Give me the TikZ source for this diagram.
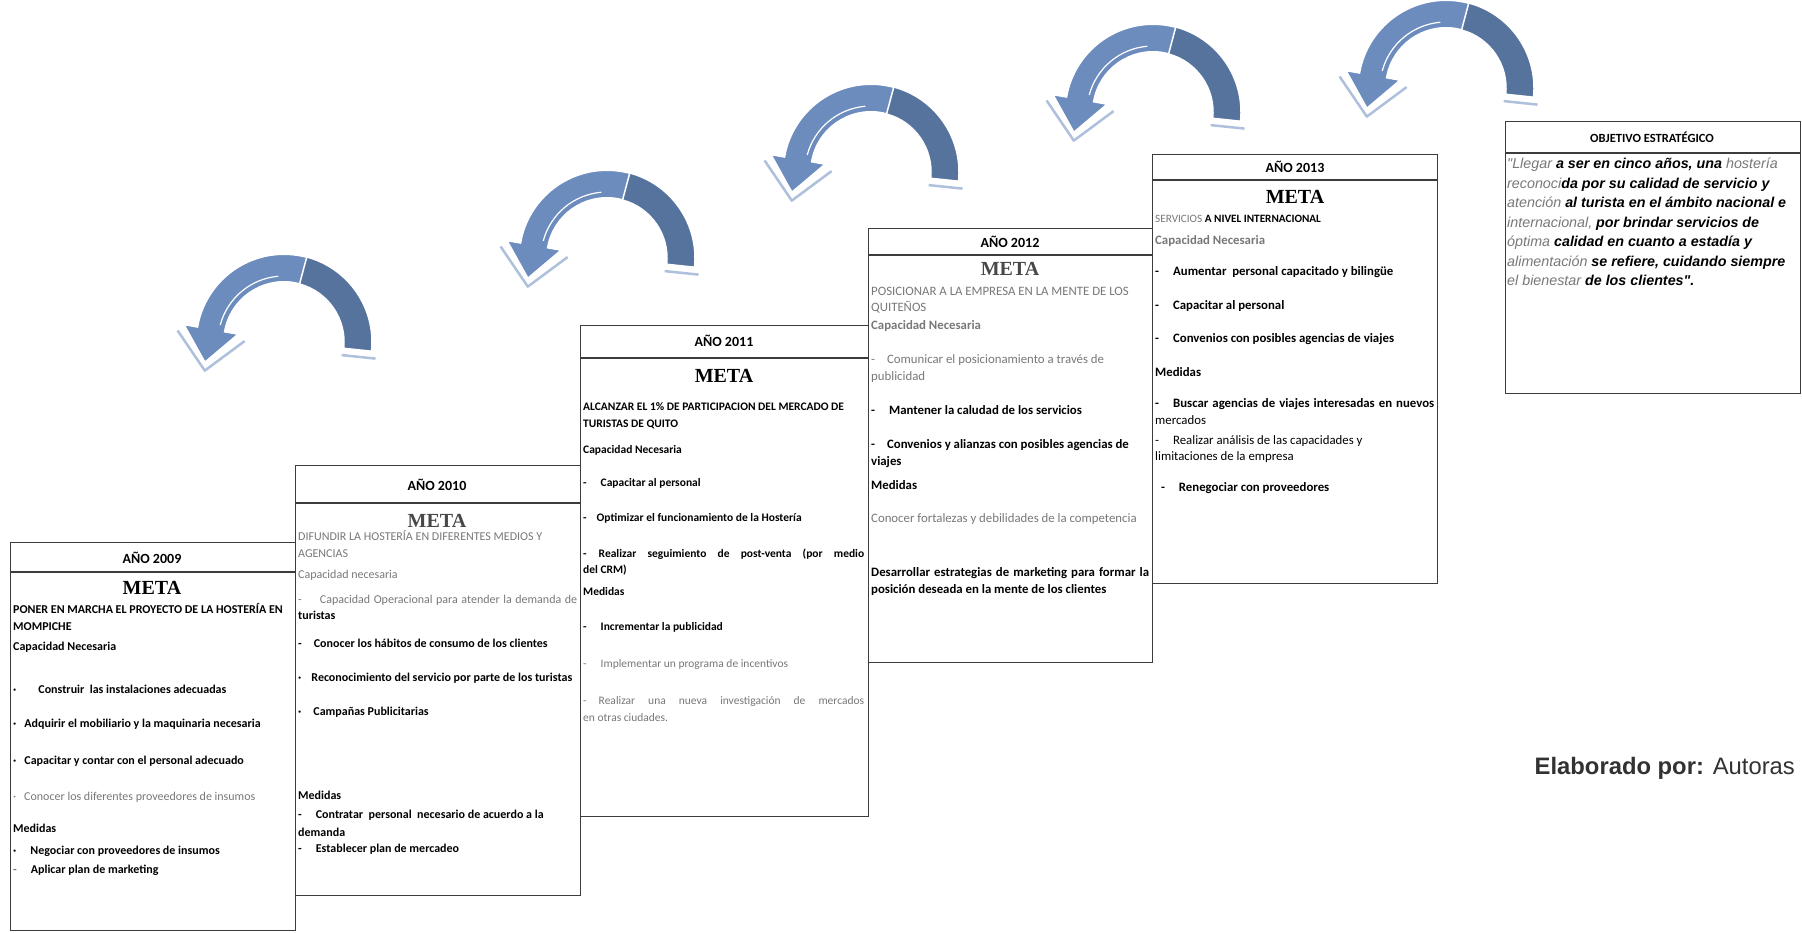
\documentclass[tikz,border=0pt]{standalone}
\usepackage{fontspec}
\setmainfont{Carlito}
\newfontfamily\arialf{Liberation Sans}
\newfontfamily\metaf{Liberation Serif}
\usetikzlibrary{calc}
\definecolor{arrL}{RGB}{108,140,190}
\definecolor{arrD}{RGB}{86,115,158}
\definecolor{txtgray}{RGB}{120,120,120}
\definecolor{boxline}{RGB}{60,60,60}
\definecolor{elab}{RGB}{50,50,50}
\def\bodysize{\fontsize{12}{16.5}\selectfont}
\tikzset{
 yearbox/.style={draw=boxline, line width=1.3pt, inner sep=0pt, anchor=north west},
 sepline/.style={draw=boxline, line width=1.3pt},
 hd/.style={font=\fontsize{14}{16}\selectfont\bfseries, inner sep=0pt},
 metat/.style={font=\metaf\fontsize{20}{22}\selectfont\bfseries, inner sep=0pt},
 tx/.style={anchor=west, align=left, font=\bodysize, inner sep=0pt},
 bx/.style={tx, font=\bodysize\bfseries},
 gx/.style={tx, text=txtgray},
 gbx/.style={bx, text=txtgray},
 uarrow/.pic={
  \draw[arrL!55, line width=2.5pt, line join=round] (-106.4,-11.5) -- (-79.2,28.6) -- (-39.4,-0.9);
  \draw[arrL!55, line width=2.5pt] (57.7,13.1) -- (91.5,16.6);
  \fill[arrL, draw=white, line width=2pt, line join=miter]
    (6:88) arc[start angle=6, end angle=-170, radius=88]
    -- (-170:102) -- (-79.2,20.6) -- (-170:46)
    -- (-170:60) arc[start angle=-170, end angle=6, radius=60] -- cycle;
  \fill[arrD, draw=white, line width=1.5pt]
    (6:88) arc[start angle=6, end angle=-75, radius=88]
    -- (-75:60) arc[start angle=-75, end angle=6, radius=60] -- cycle;
  \draw[white, line width=1.2pt] (-95:66) arc[start angle=-95, end angle=-165, radius=66];
 }
}
\begin{document}
\begin{tikzpicture}[x=1pt,y=-1pt]
\fill[white] (0,0) rectangle (1802,932);
\useasboundingbox (0,0) rectangle (1802,932);

% curved arrows
\pic at (284,342) {uarrow};
\pic at (607,258) {uarrow};
\pic at (871,172) {uarrow};
\pic at (1153,112) {uarrow};
\pic at (1446,88) {uarrow};

% ---------- 2009 ----------
\def\bodysize{\fontsize{12}{16.5}\selectfont}
\node[yearbox, minimum width=285pt, minimum height=388pt] (b09) at (10,542) {};
\draw[sepline] (10,572) -- (295,572);
\node[hd] (y09) at (152,558) {AÑO 2009};
\node[metat] (m09) at (152,588) {META};
\node[bx] (a09) at (13,617) {PONER EN MARCHA EL PROYECTO DE LA HOSTERÍA EN\\MOMPICHE};
\node[bx] (c09) at (13,647) {Capacidad Necesaria};
\node[bx] (d09) at (13,689) {·\hspace{22pt}Construir\ \ las instalaciones adecuadas};
\node[bx] (e09) at (13,724) {·\hspace{8pt}Adquirir el mobiliario y la maquinaria necesaria};
\node[bx] (f09) at (13,761) {·\hspace{8pt}Capacitar y contar con el personal adecuado};
\node[gx] (g09) at (13,797) {·\hspace{8pt}Conocer los diferentes proveedores de insumos};
\node[bx] (h09) at (13,828) {Medidas};
\node[bx] (i09) at (13,851) {·\hspace{14pt}Negociar con proveedores de insumos};
\node[bx] (j09) at (13,870) {\textcolor{txtgray}{-}\hspace{14pt}Aplicar plan de marketing};

% ---------- 2010 ----------
\def\bodysize{\fontsize{12}{16.5}\selectfont}
\node[yearbox, minimum width=285pt, minimum height=430pt] (b10) at (295,465) {};
\draw[sepline] (295,503) -- (580,503);
\node[hd] (y10) at (437,485) {AÑO 2010};
\node[metat, text=txtgray!60!black] (m10) at (437,521) {META};
\node[gx] (a10) at (298,544) {DIFUNDIR LA HOSTERÍA EN DIFERENTES MEDIOS Y\\AGENCIAS};
\node[gx] (c10) at (298,575) {Capacidad necesaria};
\node[gx] (d10) at (298,600) {\makebox[279pt][s]{-\hspace{18pt}Capacidad Operacional para atender la demanda de}};
\node[bx] (d10b) at (298,615) {turistas};
\node[bx] (e10) at (298,643) {-\hspace{12pt}Conocer los hábitos de consumo de los clientes};
\node[bx] (f10) at (298,678) {·\hspace{10pt}Reconocimiento del servicio por parte de los turistas};
\node[bx] (g10) at (298,712) {·\hspace{12pt}Campañas Publicitarias};
\node[bx] (h10) at (298,795) {Medidas};
\node[bx] (i10) at (298,815) {-\hspace{14pt}Contratar\ \ personal\ \ necesario de acuerdo a la};
\node[bx] (i10b) at (298,832) {demanda};
\node[bx] (j10) at (298,849) {-\hspace{14pt}Establecer plan de mercadeo};

% ---------- 2011 ----------
\def\bodysize{\fontsize{11.5}{16.5}\selectfont}
\node[yearbox, minimum width=288pt, minimum height=491pt] (b11) at (580,325) {};
\draw[sepline] (580,358) -- (868,358);
\node[hd] (y11) at (724,341) {AÑO 2011};
\node[metat] (m11) at (724,376) {META};
\node[bx] (a11) at (583,416) {ALCANZAR EL 1\% DE PARTICIPACION DEL MERCADO DE\\TURISTAS DE QUITO};
\node[bx] (c11) at (583,450) {Capacidad Necesaria};
\node[bx] (d11) at (583,483) {-\hspace{14pt}Capacitar al personal};
\node[bx] (e11) at (583,518) {-\hspace{10pt}Optimizar el funcionamiento de la Hostería};
\node[bx] (f11) at (583,554) {\makebox[281pt][s]{-\hspace{12pt}Realizar seguimiento de post-venta (por medio}};
\node[bx] (f11b) at (583,570) {del CRM)};
\node[bx] (g11) at (583,591) {Medidas};
\node[bx] (h11) at (583,627) {-\hspace{14pt}Incrementar la publicidad};
\node[gx] (i11) at (583,664) {-\hspace{14pt}Implementar un programa de incentivos};
\node[gx] (j11) at (583,701) {\makebox[281pt][s]{-\hspace{12pt}Realizar una nueva investigación de mercados}};
\node[gx] (j11b) at (583,718) {en otras ciudades.};

% ---------- 2012 ----------
\def\bodysize{\fontsize{12.8}{16.5}\selectfont}
\node[yearbox, minimum width=284pt, minimum height=434pt] (b12) at (868,228) {};
\draw[sepline] (868,255) -- (1152,255);
\node[hd] (y12) at (1010,242) {AÑO 2012};
\node[metat, text=txtgray!60!black] (m12) at (1010,269) {META};
\node[gx] (a12) at (871,300) {POSICIONAR A LA EMPRESA EN LA MENTE DE LOS\\QUITEÑOS};
\node[gbx] (c12) at (871,326) {Capacidad Necesaria};
\node[gx] (d12) at (871,360) {-\hspace{12pt}Comunicar el posicionamiento a través de};
\node[gx] (d12b) at (871,377) {publicidad};
\node[bx] (e12) at (871,410) {-\hspace{14pt}Mantener la caludad de los servicios};
\node[bx] (f12) at (871,445) {-\hspace{12pt}Convenios y alianzas con posibles agencias de};
\node[bx] (f12b) at (871,462) {viajes};
\node[bx] (g12) at (871,485) {Medidas};
\node[gx] (h12) at (871,519) {Conocer fortalezas y debilidades de la competencia};
\node[bx] (i12) at (871,573) {\makebox[278pt][s]{Desarrollar estrategias de marketing para formar la}};
\node[bx] (i12b) at (871,590) {posición deseada en la mente de los clientes};

% ---------- 2013 ----------
\def\bodysize{\fontsize{12.8}{16.5}\selectfont}
\node[yearbox, minimum width=285pt, minimum height=429pt] (b13) at (1152,154) {};
\draw[sepline] (1152,180) -- (1437,180);
\node[hd] (y13) at (1295,167) {AÑO 2013};
\node[metat] (m13) at (1295,197) {META};
\node[bx, font=\fontsize{11.2}{14}\selectfont\bfseries] (a13) at (1155,219) {\textcolor{txtgray}{\mdseries SERVICIOS} A NIVEL INTERNACIONAL};
\node[gbx] (c13) at (1155,241) {Capacidad Necesaria};
\node[bx] (d13) at (1155,272) {-\hspace{14pt}Aumentar\ \ personal capacitado y bilingüe};
\node[bx] (e13) at (1155,306) {-\hspace{14pt}Capacitar al personal};
\node[bx] (f13) at (1155,339) {-\hspace{14pt}Convenios con posibles agencias de viajes};
\node[bx] (g13) at (1155,372) {Medidas};
\node[bx] (h13) at (1155,404) {\makebox[279pt][s]{-\hspace{14pt}Buscar agencias de viajes interesadas en nuevos}};
\node[tx] (h13b) at (1155,420) {mercados};
\node[tx] (i13) at (1155,441) {-\hspace{14pt}Realizar análisis de las capacidades y};
\node[tx] (i13b) at (1155,457) {limitaciones de la empresa};
\node[bx] (j13) at (1155,488) {\ \ -\hspace{14pt}Renegociar con proveedores};

% ---------- objetivo ----------
\node[yearbox, minimum width=295pt, minimum height=272pt] (bo) at (1505,121) {};
\draw[sepline] (1505,153) -- (1800,153);
\node[font=\fontsize{12.5}{14}\selectfont\bfseries, inner sep=0pt] (yo) at (1652,137) {OBJETIVO ESTRATÉGICO};
\node[anchor=north west, align=left, inner sep=0pt,
      font=\arialf\fontsize{14.3}{19.5}\selectfont\bfseries\itshape] (to) at (1507,158) {%
\textcolor{txtgray}{\mdseries"Llegar} a ser en cinco años, una \textcolor{txtgray}{\mdseries hostería}\\
\textcolor{txtgray}{\mdseries reconoci}da por su calidad de servicio y\\
\textcolor{txtgray}{\mdseries atención} al turista en el ámbito nacional e\\
\textcolor{txtgray}{\mdseries internacional,} por brindar servicios de\\
\textcolor{txtgray}{\mdseries óptima} calidad en cuanto a estadía y\\
\textcolor{txtgray}{\mdseries alimentación} se refiere, cuidando siempre\\
\textcolor{txtgray}{\mdseries el bienestar} de los clientes".};

% ---------- elaborado ----------
\node[anchor=east, inner sep=0pt, text=elab, font=\arialf\fontsize{23.8}{28}\selectfont] (el) at (1795,768) {\textbf{Elaborado por:} Autoras};
\end{tikzpicture}
\end{document}
